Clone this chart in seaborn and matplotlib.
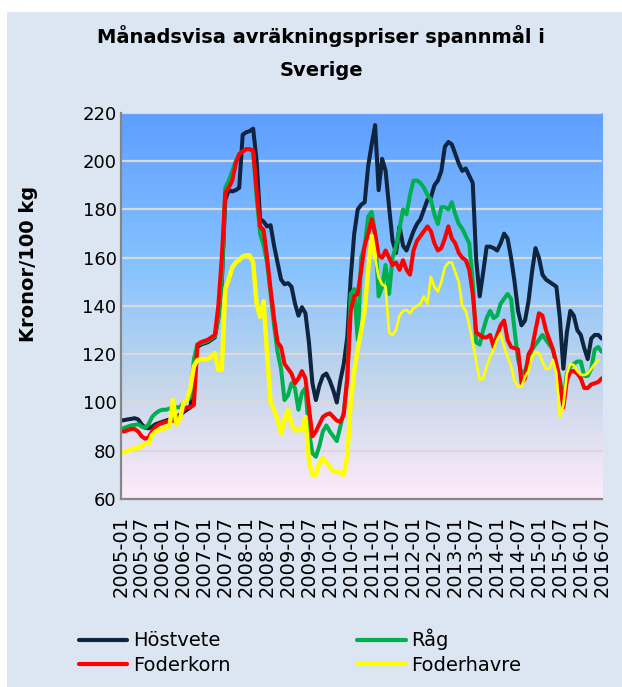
import numpy as np
import pandas as pd
import matplotlib
matplotlib.use("Agg")
import matplotlib.pyplot as plt
import seaborn as sns
from matplotlib.colors import LinearSegmentedColormap
from matplotlib.lines import Line2D
from matplotlib.patches import Rectangle

# ---------------- data ----------------
months = pd.date_range("2005-01-01", "2016-07-01", freq="MS").strftime("%Y-%m").tolist()

hostvete = [
    92.5, 92.7, 93, 93.2, 93.5, 93, 91, 89.5, 89.3, 90,
    91, 91.5, 92, 92.5, 93, 93, 94, 95, 96, 97,
    98, 110, 123, 124, 124.5, 125, 126, 127, 135, 150,
    184, 188, 187.5, 188, 189, 211, 212, 212.5, 213.5, 200,
    176, 175, 173, 173.5, 165, 158, 151, 149, 149.5, 148,
    141, 136, 139.5, 137, 125, 108, 101, 107, 111, 112,
    109, 105, 100, 109, 116, 127, 152, 170, 180, 182,
    183, 198, 207, 215, 188, 201, 196, 181, 167, 162,
    173, 165, 163, 167, 171, 174, 176, 180, 184, 185,
    190, 192, 196, 206, 208, 207, 203, 199, 196, 197,
    194, 191, 159, 144, 154, 164.6, 164.6, 164, 163, 166,
    170, 168, 160, 150, 138, 132, 134, 142, 154, 164,
    160, 153, 151, 150, 149, 148, 135, 114, 129, 138,
    136, 130, 128, 122.5, 118, 126.5, 128, 128, 126.5,
]

rag = [
    89, 89.5, 90, 90.5, 90.7, 91, 90, 89.5, 91, 94,
    95.5, 96.5, 97, 97, 97.5, 97.5, 98, 98, 100, 101,
    102, 118, 124, 124.5, 125, 125.5, 126.5, 127.5, 135, 150,
    189, 192, 196, 200, 203, 204, 205, 205, 204, 185,
    170, 165, 158, 145, 132, 121, 114, 101, 103, 108,
    106, 97, 104, 106, 88, 79, 77.5, 82, 88, 90.5,
    88, 86, 84, 90, 96, 110, 145, 147, 126, 160,
    165, 177, 179, 170, 144, 148, 157, 145, 160, 165,
    172, 180, 178, 186, 192, 192, 191, 189, 186, 184,
    178, 174, 181, 181, 180, 183, 178, 174, 172, 169,
    166, 150, 125, 124, 130, 135, 138, 135, 136, 141,
    143, 145, 143, 130, 118, 112, 113, 118, 122, 124,
    126, 128, 126, 124, 122, 116, 110, 100, 112, 115,
    116, 117, 117, 111, 111, 114, 122, 123, 121,
]

foderkorn = [
    88, 88, 88.5, 89, 89, 88, 86, 85, 85.5, 88,
    90, 91, 91.5, 92, 92, 92.5, 93, 94, 97, 98,
    98, 99, 124, 125, 125.5, 126, 127, 128, 140, 160,
    187, 189, 192, 199, 203, 204, 205, 205, 204.5, 188,
    173, 171.5, 160, 147, 135, 125, 123, 116, 114, 112,
    108, 110, 113, 110, 98, 86, 88, 91, 94, 95,
    95.5, 94, 92.5, 92, 95, 110, 138, 144, 145, 155,
    165, 170, 176, 170, 161, 160, 163, 160, 157, 158,
    155, 159, 155, 153, 163, 167, 169, 171, 173, 171,
    166, 163, 164, 168, 173, 168, 166, 162, 160, 159,
    155, 145, 129, 128, 127, 127, 128, 123, 128, 132,
    134, 126, 123, 122.5, 122, 108, 110, 120, 122.5, 130,
    137, 136, 130, 126, 122, 116, 108, 98, 109, 113,
    113, 112, 110, 106, 106, 107.5, 108, 108.5, 110,
]

foderhavre = [
    79, 79.5, 80, 80.5, 81, 81, 82, 83, 83, 86.5,
    88, 88.6, 89, 90, 90, 101, 91, 93, 100, 101,
    106, 115, 117.5, 118, 118, 118, 119, 120.5, 113.5, 113.5,
    147, 151, 156, 158, 159, 160.5, 161, 161, 158, 141,
    135.5, 142, 120, 100, 97, 93, 87, 92.7, 97, 91,
    88.5, 88.5, 88.6, 94, 76, 70, 70, 74.8, 77, 75,
    73.4, 71.3, 71.3, 71, 70, 78, 100, 113, 122, 130,
    138, 155, 169, 160, 152, 149, 148, 129, 128, 130,
    136, 138, 138.3, 137, 139, 140, 141, 144, 141, 152,
    148, 146, 150, 156, 158, 158, 154, 150, 140, 138,
    132, 125, 117, 109.4, 110, 115, 119, 122, 126, 128.7,
    123, 119, 115, 109, 106.6, 106.6, 110.7, 113, 119, 121,
    120.5, 117, 114, 114, 117.6, 112, 94, 99, 112, 116,
    115.5, 113, 111.5, 111.4, 112, 114, 116, 117.6, np.nan,
]

series_names = ["Höstvete", "Råg", "Foderkorn", "Foderhavre"]
series_colors = ["#0F243E", "#00B050", "#FF0000", "#FFFF00"]
yticks = list(range(60, 221, 20))

# ---------------- frame ----------------
idx = np.arange(len(months))
df = pd.DataFrame({"i": idx, "Höstvete": hostvete, "Råg": rag,
                   "Foderkorn": foderkorn, "Foderhavre": foderhavre})
long = df.melt(id_vars="i", var_name="serie", value_name="pris").dropna()

# ---------------- figure ----------------
sns.set_style("white")
plt.rcParams["font.family"] = ["DejaVu Sans"]
plt.rcParams["text.color"] = "black"
plt.rcParams["axes.labelcolor"] = "black"
plt.rcParams["xtick.color"] = "black"
plt.rcParams["ytick.color"] = "black"

W, H = 622, 687
fig = plt.figure(figsize=(W / 100, H / 100), dpi=100)
fig.patch.set_facecolor("white")
fig.patches.append(Rectangle((7 / W, 0), (W - 7) / W, (H - 12) / H,
                             transform=fig.transFigure, facecolor="#DCE6F2",
                             edgecolor="none", zorder=-10))

ax = fig.add_axes([120.7 / W, 1 - 499 / H, 481 / W, 386 / H])

# gradient plot area ("Daybreak")
cmap = LinearSegmentedColormap.from_list(
    "daybreak", [(0.0, "#FFEBFA"), (0.30, "#C4D6EB"), (0.61, "#85C2FF"), (1.0, "#5E9EFF")])
grad = np.linspace(0, 1, 256).reshape(-1, 1)
ax.imshow(grad, cmap=cmap, origin="lower", extent=[0, 1, 0, 1],
          transform=ax.transAxes, aspect="auto", zorder=0)

pal = dict(zip(series_names, series_colors))
main = long[long["serie"] != "Foderhavre"]
sns.lineplot(data=main, x="i", y="pris", hue="serie", hue_order=series_names[:3],
             palette=pal, linewidth=2.9, legend=False, ax=ax, zorder=3)
hav = long[long["serie"] == "Foderhavre"]
sns.lineplot(data=hav[hav["i"] <= 73], x="i", y="pris", color=pal["Foderhavre"],
             linewidth=3.2, legend=False, ax=ax, zorder=4)
sns.lineplot(data=hav[hav["i"] >= 73], x="i", y="pris", color=pal["Foderhavre"],
             linewidth=1.9, legend=False, ax=ax, zorder=4)

ax.set_xlim(0, len(months) - 1)
ax.set_ylim(60, 220)
ax.set_yticks(yticks)
ax.set_yticklabels([str(v) for v in yticks], fontsize=13, color="black")
ax.set_xticks(idx[::6])
ax.set_xticklabels(months[::6], rotation=90, fontsize=14, color="black")
ax.tick_params(axis="x", length=0, pad=12)
ax.tick_params(axis="y", length=0, pad=3)
ax.set_xlabel("")
ax.set_ylabel("Kronor/100 kg", fontsize=14, fontweight="bold", color="black")
ax.yaxis.set_label_coords(-0.172, 0.61)

ax.set_axisbelow(False)
ax.yaxis.grid(True, color="#D9D9D9", linewidth=1.6, zorder=1)
ax.xaxis.grid(False)
for g in ax.get_ygridlines():
    g.set_zorder(1)
for s in ["top", "right"]:
    ax.spines[s].set_visible(False)
for s in ["left", "bottom"]:
    ax.spines[s].set_color("#868686")
    ax.spines[s].set_linewidth(1.6)
    ax.spines[s].set_zorder(5)

fig.text(321 / W, 1 - 36 / H, "Månadsvisa avräkningspriser spannmål i",
         ha="center", va="center", fontsize=14, fontweight="bold", color="black")
fig.text(321 / W, 1 - 70 / H, "Sverige",
         ha="center", va="center", fontsize=14, fontweight="bold", color="black")

order = ["Höstvete", "Foderkorn", "Råg", "Foderhavre"]
handles = [Line2D([], [], color=pal[n], linewidth=3.0, solid_capstyle="round") for n in order]
leg = fig.legend(handles, order, ncol=2, loc="center", bbox_to_anchor=(300 / W, 1 - 652 / H),
                 frameon=False, fontsize=14, handlelength=2.5, handletextpad=0.3,
                 columnspacing=6.5, labelspacing=0.3)
for t in leg.get_texts():
    t.set_color("black")

fig.savefig("out.png", dpi=100, facecolor=fig.get_facecolor())
